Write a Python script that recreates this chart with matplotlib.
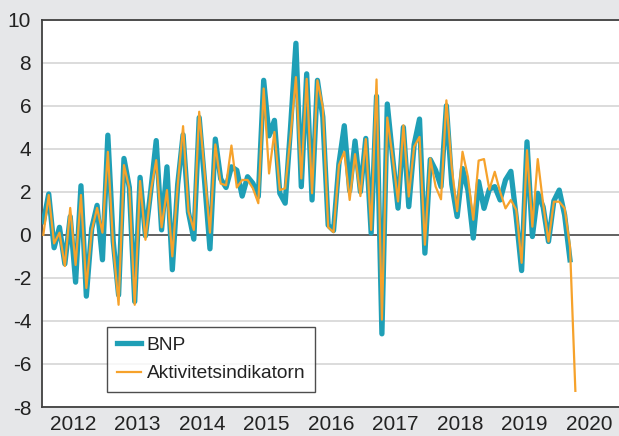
import matplotlib
matplotlib.use("Agg")
import matplotlib.pyplot as plt
import numpy as np

# Monthly data, Jan 2012 onwards
years = ["2012", "2013", "2014", "2015", "2016", "2017", "2018", "2019", "2020"]

bnp = [0.6, 1.9, -0.6, 0.35, -1.35, 0.85, -2.2, 2.28, -2.85, 0.3, 1.37, -1.16,
       4.63, -0.3, -2.8, 3.55, 2.2, -3.1, 2.67, -0.05, 2.08, 4.38, 0.23, 3.16,
       -1.62, 2.35, 4.65, 1.05, -0.2, 5.45, 2.5, -0.65, 4.45, 2.6, 2.2, 3.16,
       3.0, 1.8, 2.7, 2.39, 1.78, 7.18, 4.6, 5.32, 1.93, 1.47, 5.0, 8.9,
       2.24, 7.48, 1.62, 7.18, 5.48, 0.45, 0.2, 3.3, 5.07, 2.04, 4.36, 2.0,
       4.48, 0.08, 6.44, -4.6, 6.08, 3.6, 1.24, 5.0, 1.31, 4.2, 5.38, -0.85,
       3.5, 3.0, 2.24, 6.0, 2.35, 0.85, 3.08, 2.08, -0.15, 2.47, 1.23, 2.12,
       2.24, 1.62, 2.55, 2.95, 0.8, -1.66, 4.32, -0.08, 1.93, 1.3, -0.31, 1.58,
       2.08, 0.92, -1.16]

aktivitet = [0.0, 1.85, -0.4, 0.1, -1.45, 1.25, -1.4, 1.85, -2.47, 0.2, 1.25, 0.1,
             3.86, -0.5, -3.25, 3.24, 2.16, -3.25, 2.5, -0.23, 2.05, 3.47, 0.35, 2.08,
             -1.0, 2.3, 5.05, 1.08, 0.23, 5.72, 2.9, 0.1, 4.2, 2.38, 2.3, 4.15,
             2.2, 2.55, 2.55, 2.16, 1.47, 6.8, 2.85, 4.78, 2.08, 2.16, 4.6, 7.33,
             2.62, 7.25, 1.93, 7.18, 5.94, 0.35, 0.12, 3.24, 3.86, 1.62, 3.75, 1.8,
             4.45, 0.23, 7.22, -3.94, 5.45, 3.6, 1.55, 5.09, 1.78, 4.1, 4.55, -0.46,
             3.55, 2.24, 1.65, 6.25, 3.1, 1.1, 3.86, 2.7, 0.7, 3.45, 3.52, 2.1,
             2.93, 2.0, 1.23, 1.62, 1.16, -1.3, 3.93, 0.38, 3.52, 1.45, -0.31, 1.54,
             1.54, 1.23, -0.54, -7.25]

yticks = [-8, -6, -4, -2, 0, 2, 4, 6, 8, 10]

plt.rcParams['font.family'] = ['Liberation Sans', 'DejaVu Sans']

bg = "#e6e7e9"
teal = "#1f9fb6"
orange = "#f6a22b"

fig = plt.figure(figsize=(6.19, 4.36), dpi=100, facecolor=bg)
ax = fig.add_axes([0.0683, 0.0665, 0.935, 0.8885])
ax.set_facecolor("white")

x_b = np.arange(len(bnp))
x_a = np.arange(len(aktivitet))

for v in yticks:
    if v == 0:
        continue
    ax.axhline(v, color="#d9d9d9", lw=1.3, zorder=1)
ax.axhline(0, color="#555555", lw=1.3, zorder=2)

ax.plot(x_b, bnp, color=teal, lw=3.8, label="BNP", zorder=3)
ax.plot(x_a, aktivitet, color=orange, lw=1.6, label="Aktivitetsindikatorn", zorder=4)

ax.set_xlim(-0.2, 107.5)
ax.set_ylim(-8, 10)
ax.set_yticks(yticks)
ax.set_yticklabels([str(v) for v in yticks])
ax.set_xticks([12 * k + 5.5 for k in range(len(years))])
ax.set_xticklabels(years)
ax.tick_params(axis="both", length=0, labelsize=15, colors="#222222")
ax.tick_params(axis="y", pad=8)
ax.tick_params(axis="x", pad=6)

for side in ["left", "top", "bottom"]:
    ax.spines[side].set_color("#404040")
    ax.spines[side].set_linewidth(1.3)
ax.spines["right"].set_visible(False)

leg = ax.legend(loc="lower left", bbox_to_anchor=(0.1123, 0.0387), borderaxespad=0,
                fontsize=13.8, frameon=True, fancybox=False, edgecolor="#222222",
                handlelength=1.25, handletextpad=0.3, borderpad=0.5, labelspacing=0.6)
leg.get_frame().set_linewidth(1.0)
for t in leg.get_texts():
    t.set_color("#222222")

fig.savefig("out.png", dpi=100, facecolor=bg)
